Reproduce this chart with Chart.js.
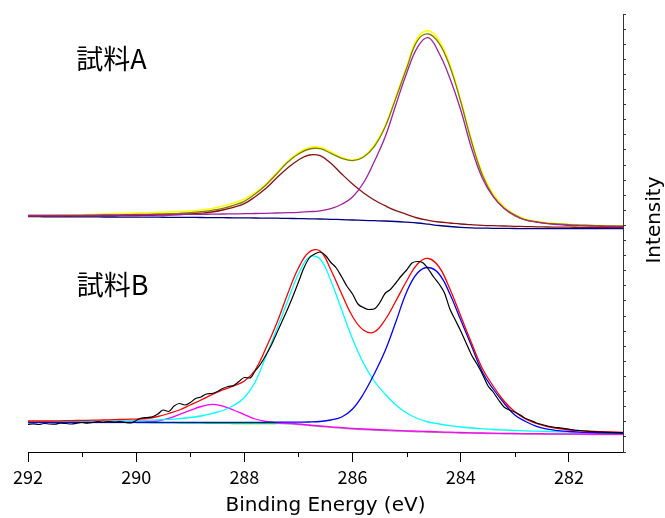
<!DOCTYPE html>
<html>
<head>
<meta charset="utf-8">
<script src="https://cdn.jsdelivr.net/npm/chart.js@4.4.1/dist/chart.umd.min.js"></script>
<style>
  html, body { margin: 0; padding: 0; background: #fff; }
  canvas { display: block; }
</style>
</head>
<body>
<canvas id="c" width="665" height="518"></canvas>
<script>
// ---------- data ----------
// binding energy grid for the fitted curves (eV, 0.2 eV step)
const energyFit = [292.0,291.8,291.6,291.4,291.2,291.0,290.8,290.6,290.4,290.2,290.0,289.8,289.6,289.4,289.2,289.0,288.8,288.6,288.4,288.2,288.0,287.8,287.6,287.4,287.2,287.0,286.8,286.6,286.4,286.2,286.0,285.8,285.6,285.4,285.2,285.0,284.8,284.6,284.4,284.2,284.0,283.8,283.6,283.4,283.2,283.0,282.8,282.6,282.4,282.2,282.0,281.8,281.6,281.4,281.2,281.0];
// binding energy grid for the measured spectrum of sample B (eV, 0.1 eV step)
const energyRaw = [292.0,291.9,291.8,291.7,291.6,291.5,291.4,291.3,291.2,291.1,291.0,290.9,290.8,290.7,290.6,290.5,290.4,290.3,290.2,290.1,290.0,289.9,289.8,289.7,289.6,289.5,289.4,289.3,289.2,289.1,289.0,288.9,288.8,288.7,288.6,288.5,288.4,288.3,288.2,288.1,288.0,287.9,287.8,287.7,287.6,287.5,287.4,287.3,287.2,287.1,287.0,286.9,286.8,286.7,286.6,286.5,286.4,286.3,286.2,286.1,286.0,285.9,285.8,285.7,285.6,285.5,285.4,285.3,285.2,285.1,285.0,284.9,284.8,284.7,284.6,284.5,284.4,284.3,284.2,284.1,284.0,283.9,283.8,283.7,283.6,283.5,283.4,283.3,283.2,283.1,283.0,282.9,282.8,282.7,282.6,282.5,282.4,282.3,282.2,282.1,282.0,281.9,281.8,281.7,281.6,281.5,281.4,281.3,281.2,281.1,281.0];

// Sample A (offset upward), intensity in arbitrary units
const sampleA_measured = [245.5,245.6,245.7,245.8,246.0,246.3,246.6,247.0,247.3,247.6,248.0,248.3,248.7,249.0,249.5,250.0,251.0,252.5,255.0,258.0,262.0,268.5,277.0,288.3,299.7,308.3,313.5,313.8,309.0,303.5,301.0,304.5,315.5,335.0,364.0,394.5,423.0,430.3,420.5,396.5,361.0,321.0,288.0,267.0,254.5,246.5,242.0,239.7,238.2,237.3,236.6,236.0,235.7,235.4,235.1,235.0];
const sampleA_envelope = [245.5,245.5,245.5,245.5,245.6,245.7,245.8,246.0,246.1,246.3,246.5,246.7,247.0,247.3,247.7,248.3,249.3,250.7,252.7,255.7,259.7,267.0,276.0,287.3,298.7,307.0,312.0,312.3,307.7,302.7,300.3,303.7,314.3,333.7,362.7,392.7,420.3,427.0,417.7,394.3,359.3,319.3,286.0,265.0,252.7,245.0,241.0,239.0,237.7,237.0,236.3,235.9,235.6,235.3,235.1,235.0];
const sampleA_peak2847 = [245.5,245.5,245.5,245.5,245.6,245.7,245.7,245.8,245.9,246.0,246.1,246.2,246.3,246.4,246.5,246.6,246.7,246.8,247.0,247.1,247.3,247.5,247.7,248.0,248.3,248.7,249.3,250.2,252.3,256.8,264.0,278.0,299.3,323.7,356.0,387.7,413.7,423.3,407.7,382.7,351.0,312.7,282.7,264.3,252.7,246.0,241.0,239.0,237.3,236.3,235.7,235.3,235.0,234.7,234.5,234.3];
const sampleA_peak2867 = [245.0,245.0,245.0,245.0,245.0,245.1,245.2,245.3,245.3,245.4,245.5,245.6,245.8,246.0,246.4,247.0,247.8,249.0,251.0,253.7,257.3,264.3,272.7,283.3,293.0,301.0,306.0,305.3,297.7,287.0,277.0,268.3,261.0,255.3,250.3,246.7,243.0,240.7,239.0,238.0,237.0,236.3,235.7,235.3,235.0,234.7,234.4,234.2,234.0,233.9,233.8,233.7,233.6,233.5,233.4,233.3];
const sampleA_background = [244.3,244.3,244.2,244.2,244.2,244.1,244.1,244.0,244.0,243.9,243.9,243.8,243.8,243.7,243.7,243.6,243.5,243.4,243.3,243.2,243.1,243.0,242.9,242.8,242.6,242.4,242.2,242.0,241.7,241.4,241.0,240.6,240.3,240.0,239.5,238.8,238.0,236.8,235.5,234.5,233.7,233.2,232.9,232.7,232.6,232.5,232.4,232.4,232.3,232.3,232.3,232.3,232.3,232.3,232.3,232.3];

// Sample B
const sampleB_measured = [36.7,37.2,36.5,37.5,37.0,36.8,37.8,37.5,37.0,37.8,38.5,37.8,38.5,39.3,38.6,39.5,38.8,39.3,38.5,38.0,40.5,43.0,43.5,44.3,47.0,51.0,49.5,55.0,57.5,56.0,58.5,62.5,64.0,67.0,67.5,69.5,72.5,74.5,75.5,79.5,83.5,83.0,90.0,97.0,106.0,116.0,128.0,140.0,152.0,165.0,179.0,193.0,203.0,207.0,209.0,205.5,198.5,193.0,184.0,174.5,167.0,157.0,153.5,151.5,152.0,158.0,167.5,171.5,178.0,185.0,191.0,198.0,199.5,198.3,192.0,184.0,177.0,168.0,152.0,141.0,130.0,118.0,106.0,97.0,87.0,75.5,69.0,61.0,54.0,51.0,49.0,46.0,42.5,40.5,38.0,36.5,35.0,34.0,33.3,32.6,31.8,31.0,30.5,30.0,29.5,29.1,28.8,28.6,28.5,28.3,28.3];
const sampleB_envelope = [40.0,40.0,40.0,40.2,40.4,40.6,40.8,41.0,41.3,41.7,41.9,42.5,44.5,47.5,51.0,56.0,61.0,66.3,71.0,75.0,80.0,91.0,113.0,138.0,167.0,193.0,209.0,210.0,191.0,167.0,144.5,131.0,129.0,141.0,160.0,180.0,197.0,202.5,194.0,172.0,145.0,118.0,92.5,75.0,60.0,49.3,42.0,37.5,34.5,32.5,31.0,30.3,29.8,29.3,29.0,28.7];
const sampleB_peak2846 = [38.7,38.7,38.7,38.7,38.7,38.7,38.7,38.7,38.7,38.7,38.7,38.7,38.7,38.7,38.7,38.7,38.7,38.7,38.7,38.7,38.7,38.7,38.7,38.8,38.8,38.9,39.0,39.5,41.0,44.0,52.0,67.0,87.0,110.0,139.0,169.0,188.0,193.5,187.0,167.0,141.0,115.0,89.0,72.0,58.0,46.0,39.5,34.7,31.8,30.4,29.5,28.9,28.5,28.1,27.9,27.7];
const sampleB_peak2867 = [39.3,39.3,39.4,39.5,39.6,39.7,39.8,39.9,40.0,40.2,40.4,40.7,41.0,41.6,42.4,43.5,45.0,47.5,50.5,55.5,63.5,79.0,105.0,132.0,160.0,187.0,204.0,202.0,180.0,151.0,122.0,98.0,80.0,67.0,56.0,48.0,42.5,39.0,37.0,35.3,34.0,33.0,32.2,31.5,31.0,30.5,30.1,29.8,29.5,29.2,29.0,28.8,28.6,28.5,28.4,28.3];
const sampleB_peak2886 = [38.7,38.7,38.7,38.7,38.7,38.7,38.7,38.7,38.7,38.7,38.7,39.0,40.0,42.6,46.6,50.7,54.5,56.7,54.8,51.0,46.4,42.0,39.5,38.3,37.7,37.0,36.0,35.0,34.2,33.3,32.6,32.0,31.5,31.0,30.6,30.2,29.8,29.5,29.1,28.8,28.5,28.2,28.0,27.8,27.6,27.5,27.4,27.3,27.2,27.1,27.1,27.0,27.0,27.0,26.9,26.9];
const sampleB_background = [38.5,38.5,38.5,38.5,38.5,38.5,38.5,38.5,38.5,38.5,38.5,38.5,38.5,38.4,38.4,38.4,38.3,38.3,38.3,38.2,38.1,38.0,37.9,37.6,37.1,36.4,35.5,34.5,33.6,32.8,32.0,31.4,30.9,30.4,30.0,29.6,29.2,28.9,28.6,28.3,28.0,27.8,27.6,27.4,27.2,27.1,27.0,26.9,26.8,26.7,26.6,26.6,26.5,26.5,26.4,26.4];
const sampleB_background2 = [null,null,null,null,null,null,null,null,null,null,38.4,38.3,38.2,38.1,38.0,37.9,37.8,37.7,37.6,37.5,37.5,37.4,37.4,37.3,null,null,null,null,null,null,null,null,null,null,null,null,null,null,null,null,null,null,null,null,null,null,null,null,null,null,null,null,null,null,null,null];

// axis ticks and texts
const xMajorTicks = [292, 290, 288, 286, 284, 282];
const xMinorTicks = [291, 289, 287, 285, 283];
const yMin = 9, yMax = 447, yTickCount = 30;
const sampleNames = ['試料A', '試料B'];
const sampleNameEnergy = [291.11, 291.1];
const sampleNameIntensity = [402, 176];
const xTitle = 'Binding Energy (eV)';
const yTitle = 'Intensity';

// ---------- build ----------
function pts(xs, ys) { return xs.map((x, i) => ({ x: x, y: ys[i] })); }
function ds(label, xs, ys, color, extra) {
  return Object.assign({
    label: label, data: pts(xs, ys), borderColor: color, backgroundColor: color,
    borderWidth: 1.3, pointRadius: 0, fill: false, tension: 0.4, spanGaps: false
  }, extra || {});
}

const datasets = [
  ds('B measured', energyRaw, sampleB_measured, '#000000', { tension: 0, cubicInterpolationMode: 'monotone', borderWidth: 1.2 }),
  ds('B envelope', energyFit, sampleB_envelope, '#ff0000'),
  ds('B 284.6', energyFit, sampleB_peak2846, '#0000ff'),
  ds('B 286.7', energyFit, sampleB_peak2867, '#00ffff'),
  ds('B 288.6', energyFit, sampleB_peak2886, '#ff00ff'),
  ds('B background 2', energyFit, sampleB_background2, '#00e000'),
  ds('B background', energyFit, sampleB_background, '#a090a0'),
  ds('A 284.7', energyFit, sampleA_peak2847, '#a020a0'),
  ds('A 286.7', energyFit, sampleA_peak2867, '#8b1010'),
  ds('A envelope', energyFit, sampleA_envelope, '#808000'),
  ds('A measured', energyFit, sampleA_measured, '#ffff00', { borderWidth: 1.5 }),
  ds('A background', energyFit, sampleA_background, '#000080')
];

const decorPlugin = {
  id: 'decor',
  afterDraw(chart) {
    const c = chart.ctx, xs = chart.scales.x, ys = chart.scales.y;
    c.save();
    // minor ticks on the energy axis
    c.strokeStyle = '#000'; c.lineWidth = 1;
    const y0 = ys.bottom;
    xMinorTicks.forEach(v => {
      const px = Math.round(xs.getPixelForValue(v)) + 0.5;
      c.beginPath(); c.moveTo(px, y0); c.lineTo(px, y0 + 5); c.stroke();
    });
    // sample names
    c.fillStyle = '#000';
    c.font = '27px "Noto Sans CJK JP"';
    c.textAlign = 'left'; c.textBaseline = 'middle';
    sampleNames.forEach((t, i) => {
      c.fillText(t, xs.getPixelForValue(sampleNameEnergy[i]), ys.getPixelForValue(sampleNameIntensity[i]));
    });
    // intensity title (reads bottom to top)
    c.font = '20px "DejaVu Sans"';
    c.textAlign = 'center'; c.textBaseline = 'middle';
    c.translate(ys.right - 10, ys.getPixelForValue(241));
    c.rotate(-Math.PI / 2);
    c.fillText(yTitle, 0, 0);
    c.restore();
  }
};

new Chart(document.getElementById('c'), {
  type: 'line',
  data: { datasets: datasets },
  options: {
    responsive: false, animation: false, events: [],
    layout: { padding: { left: 28, top: 14, right: 0, bottom: 0 } },
    plugins: { legend: { display: false }, tooltip: { enabled: false } },
    scales: {
      x: {
        type: 'linear', position: 'bottom', min: 281, max: 292, reverse: true,
        afterBuildTicks: s => { s.ticks = xMajorTicks.map(v => ({ value: v })); },
        afterFit: s => { s.height = 66; },
        grid: { drawOnChartArea: false, drawTicks: true, tickLength: 10, color: '#000', tickColor: '#000', lineWidth: 1 },
        border: { display: true, color: '#000', width: 1 },
        ticks: { color: '#000', font: { family: '"Noto Sans CJK JP"', size: 18 }, padding: 4, maxRotation: 0, autoSkip: false,
                 callback: v => String(v) },
        title: { display: true, text: xTitle, color: '#000', font: { family: '"DejaVu Sans"', size: 20 }, padding: { top: 0, bottom: 0 } }
      },
      y: {
        type: 'linear', position: 'right', min: yMin, max: yMax,
        afterBuildTicks: s => {
          const t = [];
          for (let i = 0; i < yTickCount; i++) t.push({ value: yMin + i * (yMax - yMin) / (yTickCount - 1) });
          s.ticks = t;
        },
        afterFit: s => { s.width = 42; },
        grid: { drawOnChartArea: false, drawTicks: true, tickLength: 3, color: '#333', tickColor: '#333' },
        border: { display: true, color: '#333', width: 1 },
        ticks: { display: false },
        title: { display: false }
      }
    }
  },
  plugins: [decorPlugin]
});
</script>
</body>
</html>
